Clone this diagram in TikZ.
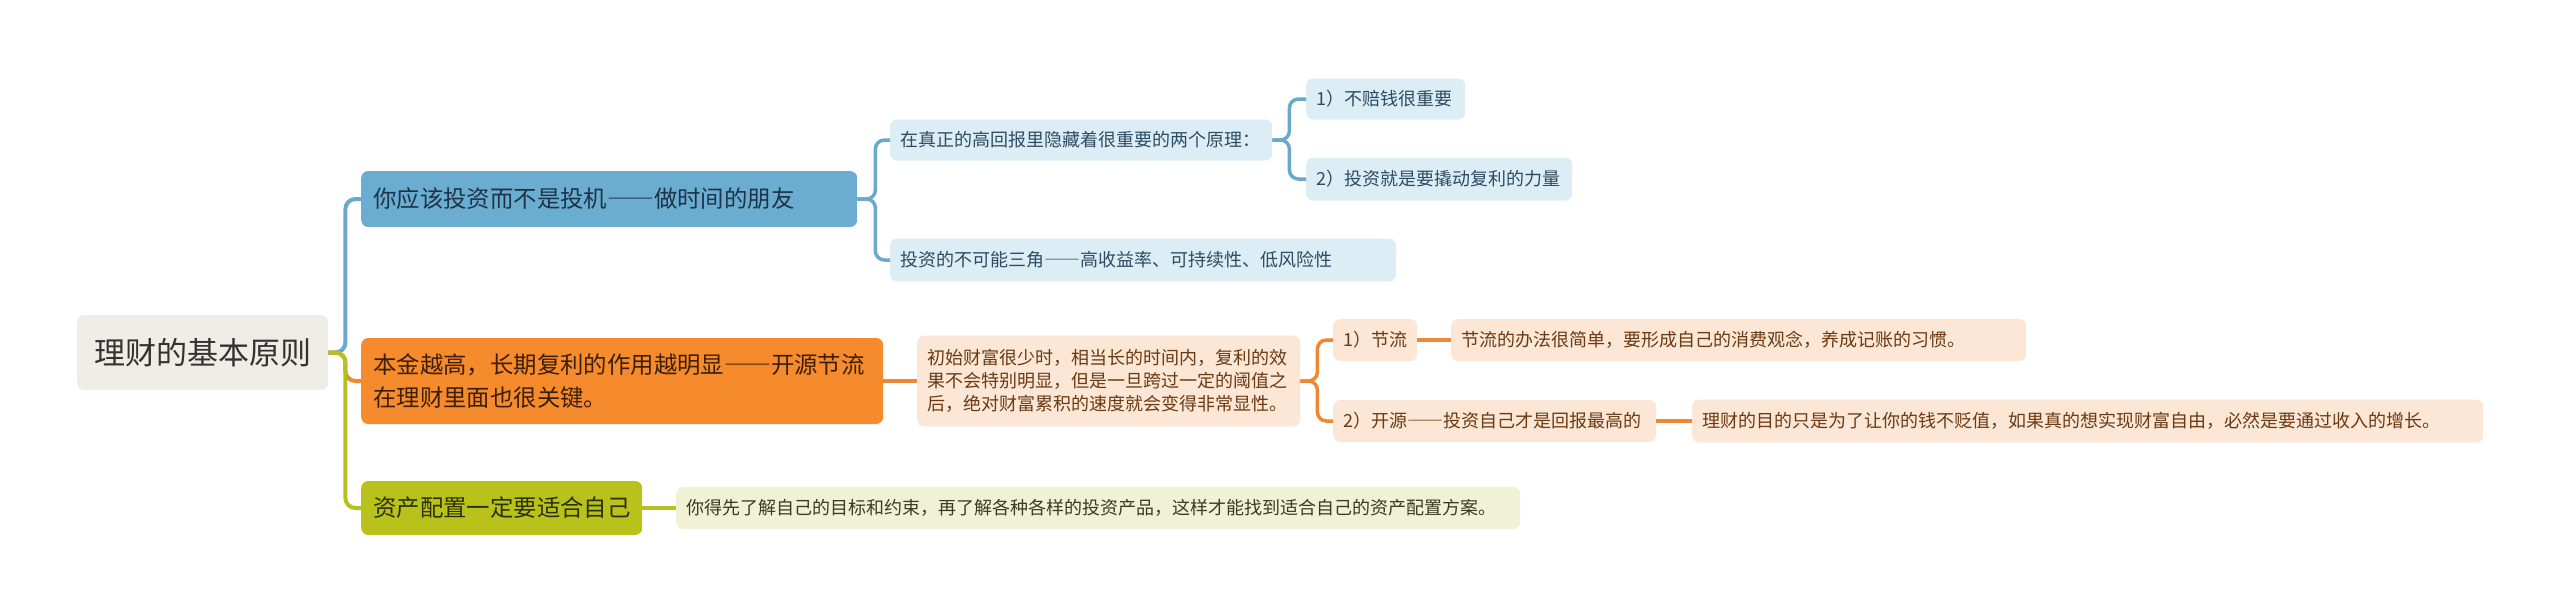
\documentclass[tikz,border=0pt]{standalone}
\usepackage{fontspec}
\setmainfont{Noto Sans CJK SC}
\newcommand{\dashes}{{\addfontfeatures{RawFeature=+fwid}——}}
\definecolor{rootfill}{HTML}{EEEDE6}
\definecolor{roottext}{HTML}{333333}
\definecolor{bluefill}{HTML}{6AADD1}
\definecolor{bluetext}{HTML}{1D3445}
\definecolor{bluelight}{HTML}{DDEDF6}
\definecolor{bluelighttext}{HTML}{2C4C63}
\definecolor{blueline}{HTML}{6AA8CC}
\definecolor{orangefill}{HTML}{F58B2C}
\definecolor{orangetext}{HTML}{3D1F05}
\definecolor{orangelight}{HTML}{FCE6D5}
\definecolor{orangelighttext}{HTML}{6B3A12}
\definecolor{orangeline}{HTML}{EF8834}
\definecolor{greenfill}{HTML}{B9C21B}
\definecolor{greentext}{HTML}{2C3004}
\definecolor{greenlight}{HTML}{F1F2D5}
\definecolor{greenlighttext}{HTML}{3A3A20}
\definecolor{greenline}{HTML}{B6C01E}
\tikzset{
  base/.style={rounded corners=7pt, anchor=west, inner ysep=0pt, align=left},
  rootbox/.style={base, fill=rootfill, text=roottext, font=\fontsize{31}{36}\selectfont, inner xsep=17pt, minimum height=75pt},
  bigbox/.style={base, inner xsep=12pt, font=\fontsize{23.4}{32.5}\selectfont},
  smallbox/.style={base, inner xsep=10pt, minimum height=41pt, font=\fontsize{18}{23.3}\selectfont},
  bluebig/.style={bigbox, fill=bluefill, text=bluetext},
  orangebig/.style={bigbox, fill=orangefill, text=orangetext},
  greenbig/.style={bigbox, fill=greenfill, text=greentext},
  bluesmall/.style={smallbox, fill=bluelight, text=bluelighttext},
  orangesmall/.style={smallbox, fill=orangelight, text=orangelighttext},
  greensmall/.style={smallbox, fill=greenlight, text=greenlighttext},
  mainline/.style={line width=4pt, rounded corners=10pt},
  subline/.style={line width=3.5pt, rounded corners=9pt},
}
\begin{document}
\begin{tikzpicture}[x=1pt,y=-1pt]
\useasboundingbox (0,0) rectangle (2560,614);
% nodes
\node[rootbox, text width=217pt] (root) at (77,352.5) {理财的基本原则};
\node[bluebig, text width=472pt, minimum height=56pt] (b1) at (361,199) {你应该投资而不是投机\dashes 做时间的朋友};
\node[orangebig, text width=498pt, minimum height=86pt] (b2) at (361,381) {本金越高，长期复利的作用越明显\dashes 开源节流\\在理财里面也很关键。};
\node[greenbig, text width=257pt, minimum height=54pt] (b3) at (361,508) {资产配置一定要适合自己};
\node[bluesmall, text width=362pt] (s1) at (890,140) {在真正的高回报里隐藏着很重要的两个原理：};
\node[bluesmall, text width=486pt, minimum height=43pt] (s2) at (890,260) {投资的不可能三角\dashes 高收益率、可持续性、低风险性};
\node[bluesmall, text width=139pt] (p1) at (1306,99) {1）不赔钱很重要};
\node[bluesmall, text width=246pt, minimum height=43pt] (p2) at (1306,179) {2）投资就是要撬动复利的力量};
\node[orangesmall, text width=363pt, minimum height=91pt] (on) at (917,381) {初始财富很少时，相当长的时间内，复利的效\\果不会特别明显，但是一旦跨过一定的阈值之\\后，绝对财富累积的速度就会变得非常显性。};
\node[orangesmall, text width=64pt, minimum height=42pt] (o1) at (1333,340) {1）节流};
\node[orangesmall, text width=555pt, minimum height=42pt] (o1n) at (1451,340) {节流的办法很简单，要形成自己的消费观念，养成记账的习惯。};
\node[orangesmall, text width=303pt, minimum height=42pt] (o2) at (1333,421) {2）开源\dashes 投资自己才是回报最高的};
\node[orangesmall, text width=771pt, minimum height=43pt] (o2n) at (1692,421) {理财的目的只是为了让你的钱不贬值，如果真的想实现财富自由，必然是要通过收入的增长。};
\node[greensmall, text width=824pt, minimum height=42pt] (gn) at (676,508) {你得先了解自己的目标和约束，再了解各种各样的投资产品，这样才能找到适合自己的资产配置方案。};
% connectors from root
\draw[mainline, blueline] (root.east) -- ++(17,0) |- (b1.west);
\draw[mainline, orangeline] (root.east) -- ++(17,0) |- (b2.west);
\draw[mainline, greenline] (root.east) -- ++(17,0) |- (b3.west);
% blue branch
\draw[subline, blueline] (b1.east) -- ++(18,0) |- (s1.west);
\draw[subline, blueline] (b1.east) -- ++(18,0) |- (s2.west);
\draw[subline, blueline] (s1.east) -- ++(17,0) |- (p1.west);
\draw[subline, blueline] (s1.east) -- ++(17,0) |- (p2.west);
% orange branch
\draw[subline, orangeline] (b2.east) -- (on.west);
\draw[subline, orangeline] (on.east) -- ++(17,0) |- (o1.west);
\draw[subline, orangeline] (on.east) -- ++(17,0) |- (o2.west);
\draw[subline, orangeline] (o1.east) -- (o1n.west);
\draw[subline, orangeline] (o2.east) -- (o2n.west);
% green branch
\draw[subline, greenline] (b3.east) -- (gn.west);
\end{tikzpicture}
\end{document}
